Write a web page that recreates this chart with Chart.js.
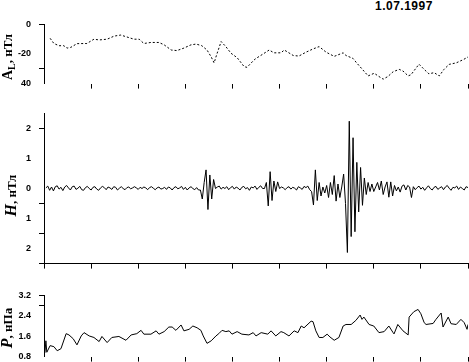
<!DOCTYPE html>
<html>
<head>
<meta charset="utf-8">
<script src="https://cdn.jsdelivr.net/npm/chart.js@4/dist/chart.umd.min.js"></script>
<style>
  body { margin: 0; background: #fff; width: 469px; height: 362px; position: relative; overflow: hidden; }
  canvas { position: absolute; left: 0; }
  #date { position: absolute; left: 375px; top: 0; font: bold 12px 'Liberation Sans', Arial, sans-serif;
          line-height: 12px; letter-spacing: 0.5px; color: #000; }
</style>
</head>
<body>
<div id="date">1.07.1997</div>
<canvas id="al" width="469" height="86" style="top:11px"></canvas>
<canvas id="h" width="469" height="177" style="top:100px"></canvas>
<canvas id="p" width="469" height="88" style="top:282px"></canvas>
<script>
// A_L index, nT
const alTime = [0.13, 0.21, 0.32, 0.42, 0.49, 0.57, 0.70, 0.91, 1.06, 1.17, 1.34, 1.49, 1.63, 1.76, 1.91, 2.02,
  2.12, 2.27, 2.44, 2.55, 2.70, 2.82, 2.97, 3.12, 3.23, 3.35, 3.46, 3.55, 3.61, 3.67, 3.76, 3.86, 3.97,
  4.10, 4.25, 4.31, 4.46, 4.50, 4.65, 4.78, 4.88, 5.03, 5.10, 5.29, 5.41, 5.56, 5.71, 5.84, 5.99, 6.16,
  6.35, 6.41, 6.56, 6.62, 6.77, 6.88, 7.01, 7.09, 7.20, 7.30, 7.41, 7.54, 7.62, 7.73, 7.79, 7.96, 8.07,
  8.17, 8.28, 8.39, 8.49, 8.60, 8.75, 8.90, 9.00];
const alValues = [-9.4, -12.9, -14.4, -14.4, -16, -15.5, -13, -12.9, -10, -10.5, -10, -7.9, -7.2, -8.5, -10, -10,
  -12.9, -12.2, -12.2, -13.8, -17.3, -17.7, -16, -13.8, -13.3, -14.4, -17.3, -22, -26, -20, -11.6, -15, -19.5,
  -22.5, -28.6, -29, -24, -23, -20, -17.3, -19.2, -19.2, -17.3, -21, -21.4, -18.8, -16.6, -15, -18.8, -21.6,
  -19.2, -21, -23, -25.4, -30.8, -34.8, -33, -34.8, -37, -35.2, -32, -30.4, -31.5, -34.8, -34, -26.9, -30.4,
  -33.4, -32.6, -34.8, -30.4, -27, -26, -23.8, -22];
const alTicks = [0, -10, -20, -30, -40];
const alTickLabels = ['0', '', '-20', '', '40'];
const alTickMarks = [true, false, false, true, false];

// H component, nT (sampled every hStep)
const hStart = 0.04;
const hStep = 0.04;
const hValues = [
  0.02, 0.08, -0.06, 0.05, -0.08, 0.06, 0.09, -0.02, 0.04, -0.07,
  0.05, 0.1, 0.02, -0.05, 0.06, 0.08, -0.03, 0.01, 0.07, -0.04,
  -0.06, 0.03, 0.07, 0.0, -0.05, 0.04, 0.06, -0.02, -0.06, 0.02,
  0.07, 0.03, -0.04, 0.05, 0.02, -0.03, 0.06, 0.04, -0.05, 0.01,
  0.06, 0.0, -0.04, 0.03, 0.05, -0.01, 0.02, 0.06, 0.02, -0.03,
  0.04, 0.0, 0.05, 0.02, -0.04, 0.03, 0.06, 0.01, -0.04, 0.02,
  0.05, -0.02, 0.0, 0.04, -0.03, 0.05, 0.02, -0.05, 0.03, 0.06,
  -0.01, 0.02, 0.07, -0.03, 0.04, -0.05, 0.02, 0.06, 0.0, -0.04,
  0.03, -0.05,
  -0.05, -0.35, 0.2, 0.62, -0.7, 0.45, -0.35, 0.3, 0.0, 0.05,
  0.08, -0.02, 0.04, 0.0, 0.06, -0.04, 0.03, 0.07, -0.02, 0.05, 0.01, -0.05,
  0.04, 0.07, -0.01, 0.03, -0.06, 0.05, 0.02, 0.08, -0.03, 0.04, 0.09, 0.0,
  0.0, 0.2, -0.58, 0.56, -0.4, 0.25, -0.1, 0.22, 0.0,
  0.05, 0.02, -0.04, 0.03, 0.06, -0.02, 0.04, 0.01, -0.05, 0.06, 0.02, -0.03, 0.07, 0.03, 0.08, -0.04,
  -0.1, -0.55, 0.62, -0.4, 0.2, -0.25, 0.05, -0.15, 0.1, -0.3, 0.2, -0.2, 0.43, -0.42, 0.15, -0.3,
  0.05, 0.48, -0.5, -2.13, 2.24, -1.6, 1.69, -1.44, 0.87, -0.78, 0.7, -0.56, 0.35, -0.2, 0.2, -0.1,
  0.15, -0.1, 0.05, 0.2, -0.05, 0.25, -0.2, 0.05, 0.22, -0.29, 0.22, -0.25, 0.1, -0.08, 0.05, -0.12,
  0.08, 0.12, -0.05, 0.1, 0.05, -0.3,
  0.06, -0.04, 0.03, 0.08, -0.02, 0.04, -0.06, 0.02, 0.09, 0.0, -0.05, 0.04, 0.07, -0.03, 0.02,
  0.06, -0.04, 0.05, 0.1, 0.01, -0.06, 0.04, 0.02, 0.08, -0.03, 0.05, 0.0, -0.05, 0.06, 0.03];
const hTicks = [2, 1, 0, -0.5, -1, -1.5, -2, -2.5];
const hTickLabels = ['2', '1', '0', '', '1', '', '2', ''];
const hTickMarks = [true, false, false, true, false, true, false, true];

// P, nPa
const pTime = [0.02, 0.04, 0.06, 0.13, 0.21, 0.28, 0.36, 0.47, 0.53, 0.62, 0.70, 0.79, 0.85, 0.96, 1.06, 1.17,
  1.23, 1.34, 1.44, 1.59, 1.74, 1.85, 1.97, 2.06, 2.12, 2.27, 2.38, 2.44, 2.55, 2.65, 2.72, 2.80, 2.91,
  2.97, 3.08, 3.16, 3.25, 3.33, 3.38, 3.46, 3.55, 3.65, 3.71, 3.78, 3.86, 3.93, 3.99, 4.10, 4.20, 4.35,
  4.44, 4.50, 4.61, 4.75, 4.82, 4.92, 5.03, 5.09, 5.20, 5.31, 5.39, 5.46, 5.52, 5.67, 5.71, 5.77, 5.84,
  5.92, 6.01, 6.07, 6.16, 6.26, 6.35, 6.41, 6.52, 6.62, 6.71, 6.75, 6.79, 6.90, 7.00, 7.11, 7.22, 7.32,
  7.41, 7.43, 7.51, 7.62, 7.73, 7.75, 7.85, 7.94, 8.00, 8.07, 8.11, 8.26, 8.32, 8.43, 8.47, 8.58, 8.64,
  8.75, 8.85, 8.92, 8.98, 9.00];
const pValues = [0.95, 1.42, 0.97, 1.23, 1.19, 1.03, 1.11, 1.70, 1.65, 1.50, 1.26, 1.61, 1.74, 1.61, 1.55, 1.39,
  1.59, 1.35, 1.55, 1.59, 1.44, 1.65, 1.70, 1.83, 1.68, 1.68, 1.81, 1.68, 1.78, 1.96, 1.96, 1.83, 2.04,
  1.81, 1.87, 2.00, 1.93, 1.83, 1.61, 1.32, 1.42, 1.61, 1.70, 1.83, 1.78, 1.81, 1.68, 1.78, 1.68, 1.65,
  1.74, 1.61, 1.74, 1.68, 1.81, 1.61, 1.78, 1.74, 1.61, 1.81, 1.74, 2.00, 1.93, 2.19, 2.17, 1.81, 1.55,
  1.55, 1.68, 1.57, 1.44, 1.55, 2.00, 2.06, 2.06, 2.22, 2.43, 2.26, 2.35, 2.06, 2.00, 1.74, 1.78, 2.00,
  1.74, 1.69, 2.06, 1.81, 1.65, 2.35, 2.56, 2.65, 2.48, 2.13, 2.06, 2.10, 2.26, 2.51, 1.96, 2.35, 2.09,
  2.06, 2.26, 2.13, 1.87, 2.06];
const pTicks = [3.2, 2.8, 2.4, 1.6, 0.8];
const pTickLabels = ['3.2', '', '2.4', '1.6', '0.8'];
const pTickMarks = [true, true, false, false, false];

const hTime = hValues.map((_, i) => +(hStart + i * hStep).toFixed(2));

const serif = '"Liberation Serif", "Times New Roman", serif';
const tickFont = { family: "'Liberation Sans', Arial, sans-serif", size: 9, weight: 'bold' };

// rotated y title drawn piece by piece (subscript / italic parts)
function titlePlugin(t) {
    return {
        id: 'axisTitle',
        afterDraw(chart) {
            const ctx = chart.ctx, a = chart.chartArea;
            ctx.save();
            ctx.translate(t.x, (a.top + a.bottom) / 2 + t.dy);
            ctx.rotate(-Math.PI / 2);
            ctx.fillStyle = '#000';
            ctx.textBaseline = 'alphabetic';
            ctx.textAlign = 'left';
            let total = 0;
            t.parts.forEach(p => { ctx.font = p[1]; total += ctx.measureText(p[0]).width; });
            let x = -total / 2;
            t.parts.forEach(p => {
                ctx.font = p[1];
                ctx.fillText(p[0], x, p[2]);
                x += ctx.measureText(p[0]).width;
            });
            ctx.restore();
        }
    };
}

function makePanel(id, time, values, opts) {
    const sortedTicks = opts.ticks.slice().sort((a, b) => a - b);
    new Chart(document.getElementById(id), {
        type: 'line',
        data: {
            datasets: [{
                data: time.map((t, i) => ({ x: t, y: values[i] })),
                borderColor: '#000',
                borderWidth: 1,
                borderDash: opts.dash || [],
                pointRadius: 0,
                tension: 0,
                fill: false,
            }],
        },
        options: {
            responsive: false,
            animation: false,
            events: [],
            layout: { padding: { top: opts.padTop, bottom: opts.padBottom, left: 0, right: 1 } },
            plugins: {
                legend: { display: false },
                tooltip: { enabled: false },
            },
            scales: {
                x: {
                    type: 'linear',
                    min: 0,
                    max: 9,
                    ticks: { display: false, stepSize: 1 },
                    border: { display: opts.xBorder, color: '#000', width: 1 },
                    grid: {
                        drawOnChartArea: false,
                        tickLength: 5,
                        tickColor: ctx => (!opts.xBorder && ctx.tick && ctx.tick.value === 0) ? 'rgba(0,0,0,0)' : '#000',
                    },
                },
                y: {
                    min: opts.min,
                    max: opts.max,
                    afterFit: s => { s.width = 44; },
                    afterBuildTicks: s => { s.ticks = sortedTicks.map(v => ({ value: v })); },
                    ticks: {
                        autoSkip: false,
                        padding: 8,
                        color: '#000',
                        font: tickFont,
                        callback: v => opts.labels[opts.ticks.indexOf(v)],
                    },
                    border: { display: true, color: '#000', width: 1 },
                    grid: {
                        drawOnChartArea: false,
                        tickLength: 5,
                        tickColor: ctx => (ctx.tick && opts.marks[opts.ticks.indexOf(ctx.tick.value)]) ? '#000' : 'rgba(0,0,0,0)',
                    },
                },
            },
        },
        plugins: [titlePlugin(opts.title)],
    });
}

makePanel('al', alTime, alValues, {
    min: -40, max: 0, ticks: alTicks, labels: alTickLabels, marks: alTickMarks,
    padTop: 10, padBottom: 4, xBorder: false, dash: [2, 2],
    title: { x: 12, dy: 3, parts: [
        ['A', 'bold 14px ' + serif, 0],
        ['L', 'bold 10px ' + serif, 3],
        [', нТл', 'bold 13px ' + serif, 0],
    ] },
});

makePanel('h', hTime, hValues, {
    min: -2.5, max: 2.5, ticks: hTicks, labels: hTickLabels, marks: hTickMarks,
    padTop: 12, padBottom: 4, xBorder: true,
    title: { x: 16, dy: 7, parts: [
        ['H', 'bold italic 16px ' + serif, 0],
        [', нТл', 'bold 13px ' + serif, 0],
    ] },
});

makePanel('p', pTime, pValues, {
    min: 0.8, max: 3.2, ticks: pTicks, labels: pTickLabels, marks: pTickMarks,
    padTop: 12, padBottom: 1, xBorder: false,
    title: { x: 12, dy: 2, parts: [
        ['P', 'bold italic 16px ' + serif, 0],
        [', нПа', 'bold 13px ' + serif, 0],
    ] },
});
</script>
</body>
</html>
